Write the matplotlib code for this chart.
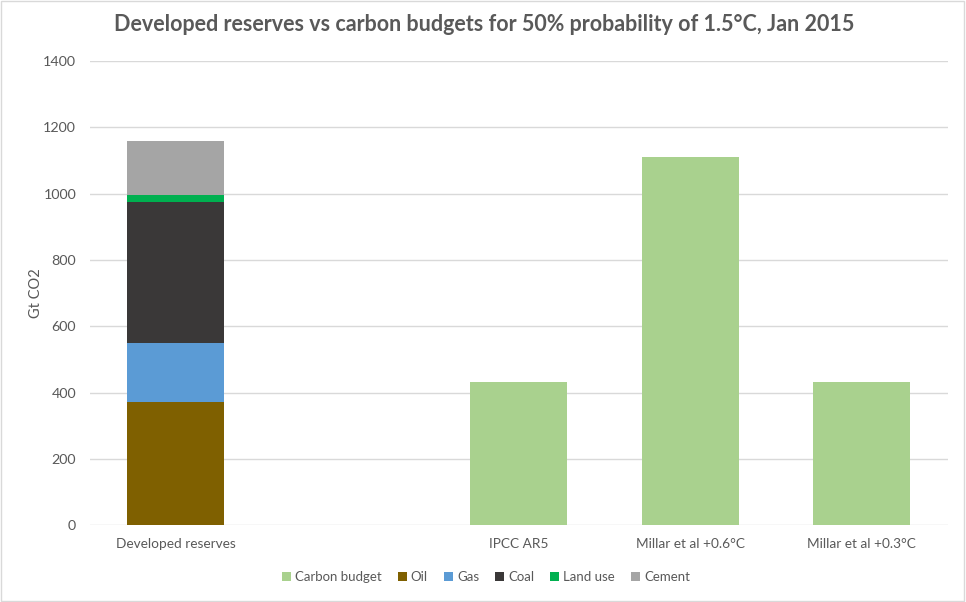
import numpy as np
import matplotlib
matplotlib.use("Agg")
import matplotlib.pyplot as plt
from matplotlib.patches import Rectangle, Patch

plt.rcParams['font.family'] = ['Lato', 'DejaVu Sans']

categories = ["Developed reserves", "", "IPCC AR5", "Millar et al +0.6°C", "Millar et al +0.3°C"]
carbon_budget = [0, 0, 432, 1112, 432]
oil = [372, 0, 0, 0, 0]
gas = [179, 0, 0, 0, 0]
coal = [425, 0, 0, 0, 0]
land_use = [20, 0, 0, 0, 0]
cement = [163, 0, 0, 0, 0]
yticks = [0, 200, 400, 600, 800, 1000, 1200, 1400]

series = [("Carbon budget", carbon_budget, "#A9D18E"),
          ("Oil", oil, "#7F6000"),
          ("Gas", gas, "#5B9BD5"),
          ("Coal", coal, "#3A3838"),
          ("Land use", land_use, "#00B050"),
          ("Cement", cement, "#A5A5A5")]

fig = plt.figure(figsize=(9.66, 6.02), dpi=100)
ax = fig.add_axes([0.0932, 0.1274, 0.8878, 0.7713])

x = np.arange(len(categories))
bottom = np.zeros(len(categories))
w = 0.565
for name, vals, col in series:
    v = np.array(vals, dtype=float)
    ax.bar(x, v, w, bottom=bottom, color=col, zorder=3, linewidth=0)
    bottom += v

ax.set_xlim(-0.5, len(categories) - 0.5)
ax.set_ylim(0, 1400)
ax.set_yticks(yticks)
ax.set_xticks(x)
ax.set_xticklabels(categories)
ax.tick_params(axis='x', length=0, colors='#595959', labelsize=9.8, pad=9)
ax.tick_params(axis='y', length=0, colors='#595959', labelsize=10.3, pad=10)
for s in ax.spines.values():
    s.set_visible(False)
ax.grid(axis='y', color='#D9D9D9', linewidth=1, zorder=0)
ax.set_ylabel("Gt CO2", color='#595959', fontsize=10.5, labelpad=0)

fig.suptitle("Developed reserves vs carbon budgets for 50% probability of 1.5°C, Jan 2015",
             x=0.501, y=0.977, fontsize=15.5, fontweight='bold', color='#595959')

handles = [Patch(facecolor=c, edgecolor='none', label=n) for n, _, c in series]
fig.legend(handles=handles, loc='center', bbox_to_anchor=(0.503, 0.041), ncol=6,
           frameon=False, fontsize=9.5, handlelength=0.7, handleheight=0.7,
           handletextpad=0.3, columnspacing=1.2, labelcolor='#595959')

fig.patches.append(Rectangle((0.001, 0.001), 0.997, 0.997, transform=fig.transFigure,
                             fill=False, edgecolor='#D9D9D9', linewidth=1))

fig.savefig("out.png", dpi=100)
